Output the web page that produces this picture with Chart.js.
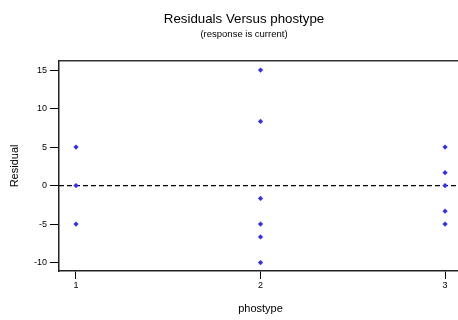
<!DOCTYPE html>
<html>
<head>
<meta charset="utf-8">
<script src="https://cdn.jsdelivr.net/npm/chart.js@4/dist/chart.umd.min.js"></script>
<style>
  html, body { margin: 0; padding: 0; background: #fff; overflow: hidden; }
  #wrap { width: 488px; height: 320px; position: relative; }
</style>
</head>
<body>
<div id="wrap"><canvas id="chart"></canvas></div>
<script>
// Residuals by phostype group
const phostype = [1, 1, 1, 2, 2, 2, 2, 2, 2, 3, 3, 3, 3, 3];
const residuals = [5, 0, -5, 15, 8.33, -1.67, -5, -6.67, -10, 5, 1.67, 0, -3.33, -5];

const xTicks = [1, 2, 3];
const yTicks = [-10, -5, 0, 5, 10, 15];
const xRange = [0.908, 3.092];
const yRange = [-11.1, 16.2];
const refLine = 0;

const FONT = '"Liberation Sans", Arial, sans-serif';

// frame line across the top of the plot area
const topBorder = {
    id: 'topBorder',
    afterDraw(chart) {
        const { ctx, chartArea } = chart;
        ctx.save();
        ctx.strokeStyle = '#333';
        ctx.lineWidth = 1.5;
        ctx.beginPath();
        ctx.moveTo(chartArea.left, chartArea.top);
        ctx.lineTo(chartArea.right, chartArea.top);
        ctx.stroke();
        ctx.restore();
    }
};

const points = phostype.map((x, i) => ({ x: x, y: residuals[i] }));

new Chart(document.getElementById('chart').getContext('2d'), {
    type: 'scatter',
    data: {
        datasets: [{
            data: points,
            pointStyle: 'rectRot',
            pointRadius: 2.6,
            backgroundColor: '#2f2fff',
            borderColor: '#2f2fff',
            borderWidth: 0
        }, {
            type: 'line',
            data: [{ x: xRange[0], y: refLine }, { x: xRange[1], y: refLine }],
            borderColor: '#000',
            borderWidth: 1.2,
            borderDash: [5, 3],
            pointRadius: 0,
            fill: false
        }]
    },
    plugins: [topBorder],
    options: {
        responsive: true,
        maintainAspectRatio: false,
        animation: false,
        layout: { padding: 0 },
        plugins: {
            legend: { display: false },
            tooltip: { enabled: false },
            title: {
                display: true,
                text: 'Residuals Versus phostype',
                color: '#000',
                font: { family: FONT, size: 13.3, weight: 'normal' },
                padding: { top: 11, bottom: 2 }
            },
            subtitle: {
                display: true,
                text: '(response is current)',
                color: '#000',
                font: { family: FONT, size: 9.5, weight: 'normal' },
                padding: { top: 0, bottom: 20.5 }
            }
        },
        scales: {
            x: {
                type: 'linear',
                min: xRange[0],
                max: xRange[1],
                afterBuildTicks: s => { s.ticks = xTicks.map(v => ({ value: v })); },
                afterFit: s => { s.height = 49; },
                grid: { drawOnChartArea: false, drawTicks: true, tickLength: 8, tickColor: '#000' },
                border: { display: true, color: '#222', width: 1.5 },
                ticks: { color: '#000', padding: 1, font: { family: FONT, size: 9 } },
                title: {
                    display: true,
                    text: 'phostype',
                    color: '#000',
                    font: { family: FONT, size: 11 },
                    padding: { top: 0, bottom: 4 }
                }
            },
            y: {
                type: 'linear',
                min: yRange[0],
                max: yRange[1],
                afterBuildTicks: s => { s.ticks = yTicks.map(v => ({ value: v })); },
                afterFit: s => { s.width = 59; },
                grid: { drawOnChartArea: false, drawTicks: true, tickLength: 9, tickColor: '#000' },
                border: { display: true, color: '#222', width: 1.5 },
                ticks: { color: '#000', padding: 3, font: { family: FONT, size: 9 } },
                title: {
                    display: true,
                    text: 'Residual',
                    color: '#000',
                    font: { family: FONT, size: 11 },
                    padding: { top: 8, bottom: 0 }
                }
            },
            // empty spacer on the right, past the visible window
            yRight: {
                type: 'linear',
                position: 'right',
                afterFit: s => { s.width = 26; },
                ticks: { display: false },
                grid: { display: false },
                border: { display: false }
            }
        }
    }
});
</script>
</body>
</html>
